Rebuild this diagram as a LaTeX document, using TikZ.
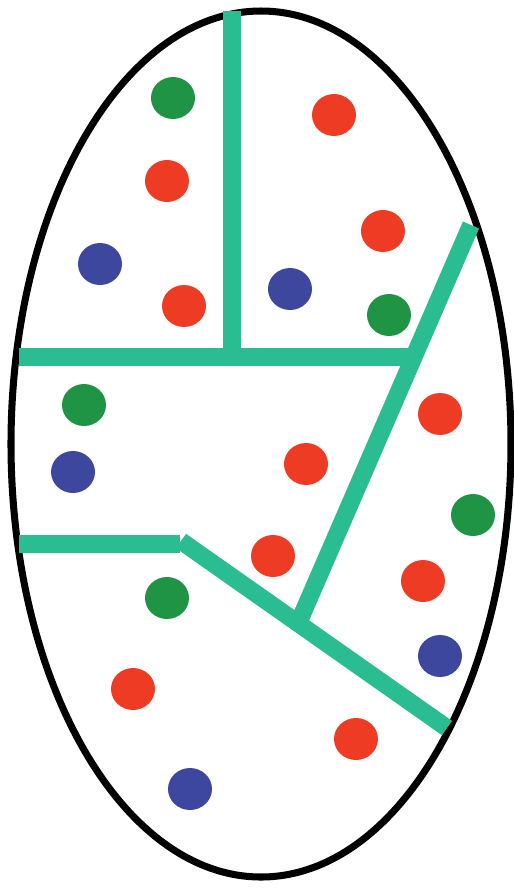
\documentclass[tikz,border=0pt]{standalone}
\definecolor{wallteal}{RGB}{43,189,146}
\definecolor{dotgreen}{RGB}{31,148,68}
\definecolor{dotred}{RGB}{238,59,36}
\definecolor{dotblue}{RGB}{60,71,157}
\tikzset{
    wall/.style={wallteal, line width=10pt, line cap=butt},
    dot/.style={fill=#1}
}
\begin{document}
\begin{tikzpicture}[x=0.02cm, y=-0.02cm]
    \useasboundingbox (0,0) rectangle (514,894);
    % outer boundary
    \draw[line width=4pt] (261,444) ellipse [x radius=250, y radius=433];
    % partition walls
    \coordinate (top)   at (232,11);
    \coordinate (midT)  at (232,357);
    \coordinate (westA) at (19,357);
    \coordinate (eastA) at (413,357);
    \coordinate (diagT) at (471,225);
    \coordinate (joint) at (298,624);
    \coordinate (westB) at (19,544);
    \coordinate (bend)  at (180,544);
    \coordinate (diagB) at (447,728);
    \draw[wall] (top) -- (midT);
    \draw[wall] (westA) -- (eastA);
    \draw[wall] (diagT) -- (joint);
    \draw[wall] (westB) -- (bend);
    \draw[wall] (181,541) -- (diagB);
    % dots
    \foreach \px/\py in {173/98, 389/315, 84/405, 473/515, 167/598}
        \fill[dot=dotgreen] (\px,\py) ellipse [x radius=22, y radius=21];
    \foreach \px/\py in {334/115, 167/181, 383/231, 184/306, 440/414,
                         306/464, 273/556, 423/581, 133/689, 356/739}
        \fill[dot=dotred] (\px,\py) ellipse [x radius=22, y radius=21];
    \foreach \px/\py in {100/264, 290/289, 73/472, 440/656, 190/789}
        \fill[dot=dotblue] (\px,\py) ellipse [x radius=22, y radius=21];
\end{tikzpicture}
\end{document}
